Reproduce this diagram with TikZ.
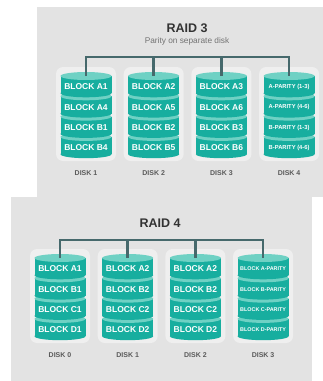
\documentclass[tikz,border=0pt]{standalone}
\usepackage{fontspec}
\setmainfont{Liberation Sans}
\setsansfont{Liberation Sans}
\usetikzlibrary{calc}

\definecolor{panelgray}{HTML}{E3E3E3}
\definecolor{shadegray}{HTML}{EFEFEF}
\definecolor{diskteal}{HTML}{17AE9F}
\definecolor{toptteal}{HTML}{6FD1C4}
\definecolor{busgray}{HTML}{46696C}
\definecolor{labelgray}{HTML}{5A5A5A}

\begin{document}
\begin{tikzpicture}[x=1pt,y=-1pt,
  disk label/.style={font=\sffamily\bfseries\fontsize{7}{8}\selectfont,text=labelgray},
  raid title/.style={font=\sffamily\bfseries\fontsize{12.5}{13}\selectfont,text=black!80},
  bus/.style={line width=2.6pt,draw=busgray}]

  \useasboundingbox (0,0) rectangle (323,381);
  \fill[panelgray] (37,7) rectangle (323,197);
  \fill[panelgray] (11,197) rectangle (312,381);

  % RAID 3
  \node[raid title] (r3) at (187,28) {RAID 3};
  \node[font=\sffamily\fontsize{8.3}{9}\selectfont,text=black!55] (r3sub) at (187,41) {Parity on separate disk};

  \node[disk label] (d31) at (86,173) {DISK 1};
  \node[disk label] (d32) [right of=d31, node distance=67.7pt] {DISK 2};
  \node[disk label] (d33) [right of=d32, node distance=67.7pt] {DISK 3};
  \node[disk label] (d34) [right of=d33, node distance=67.7pt] {DISK 4};

  % RAID 4
  \node[raid title] (r4) at (160,223) {RAID 4};

  \node[disk label] (d40) at (60,355) {DISK 0};
  \node[disk label] (d41) [right of=d40, node distance=67.7pt] {DISK 1};
  \node[disk label] (d42) [right of=d41, node distance=67.7pt] {DISK 2};
  \node[disk label] (d43) [right of=d42, node distance=67.7pt] {DISK 3};

  \pgfmathsetmacro\rx{25.5}
  \pgfmathsetmacro\ry{4}
  \pgfmathsetmacro\pitch{20.3}

  \foreach \n/\f/\ta/\tb/\tc/\td in {
      d31/8.5/BLOCK A1/BLOCK A4/BLOCK B1/BLOCK B4,
      d32/8.5/BLOCK A2/BLOCK A5/BLOCK B2/BLOCK B5,
      d33/8.5/BLOCK A3/BLOCK A6/BLOCK B3/BLOCK B6,
      d34/5.8/A-PARITY (1-3)/A-PARITY (4-6)/B-PARITY (1-3)/B-PARITY (4-6),
      d40/8.5/BLOCK A1/BLOCK B1/BLOCK C1/BLOCK D1,
      d41/8.5/BLOCK A2/BLOCK B2/BLOCK C2/BLOCK D2,
      d42/8.5/BLOCK A2/BLOCK B2/BLOCK C2/BLOCK D2,
      d43/5.4/BLOCK A-PARITY/BLOCK B-PARITY/BLOCK C-PARITY/BLOCK D-PARITY}
  {
    \coordinate (\n-top) at ($(\n)+(0,-97)$);
    \fill[shadegray,rounded corners=7pt] ($(\n-top)+(-30,-9)$) rectangle ($(\n-top)+(30,85)$);
    \foreach \k/\txt in {3/\td,2/\tc,1/\tb,0/\ta}
    {
      \fill[diskteal] ($(\n-top)+(-\rx,\k*\pitch)$) rectangle ($(\n-top)+(\rx,\k*\pitch+\pitch-3)$);
      \fill[diskteal] ($(\n-top)+(0,\k*\pitch+\pitch-3)$) ellipse [x radius=\rx, y radius=\ry];
      \fill[toptteal] ($(\n-top)+(0,\k*\pitch)$) ellipse [x radius=\rx, y radius=\ry];
      \node[text=white,font=\sffamily\bfseries\fontsize{\f}{\f}\selectfont] (\n-\k) at ($(\n-top)+(0,\k*\pitch+11)$) {\txt};
    }
  }

  \draw[bus] (d31-top) -- ++(0,-19) -| (d34-top);
  \draw[bus] (d32-top) -- ++(0,-19);
  \draw[bus] (d33-top) -- ++(0,-19);

  \draw[bus] (d40-top) -- ++(0,-18) -| (d43-top);
  \draw[bus] (d41-top) -- ++(0,-18);
  \draw[bus] (d42-top) -- ++(0,-18);

\end{tikzpicture}
\end{document}
